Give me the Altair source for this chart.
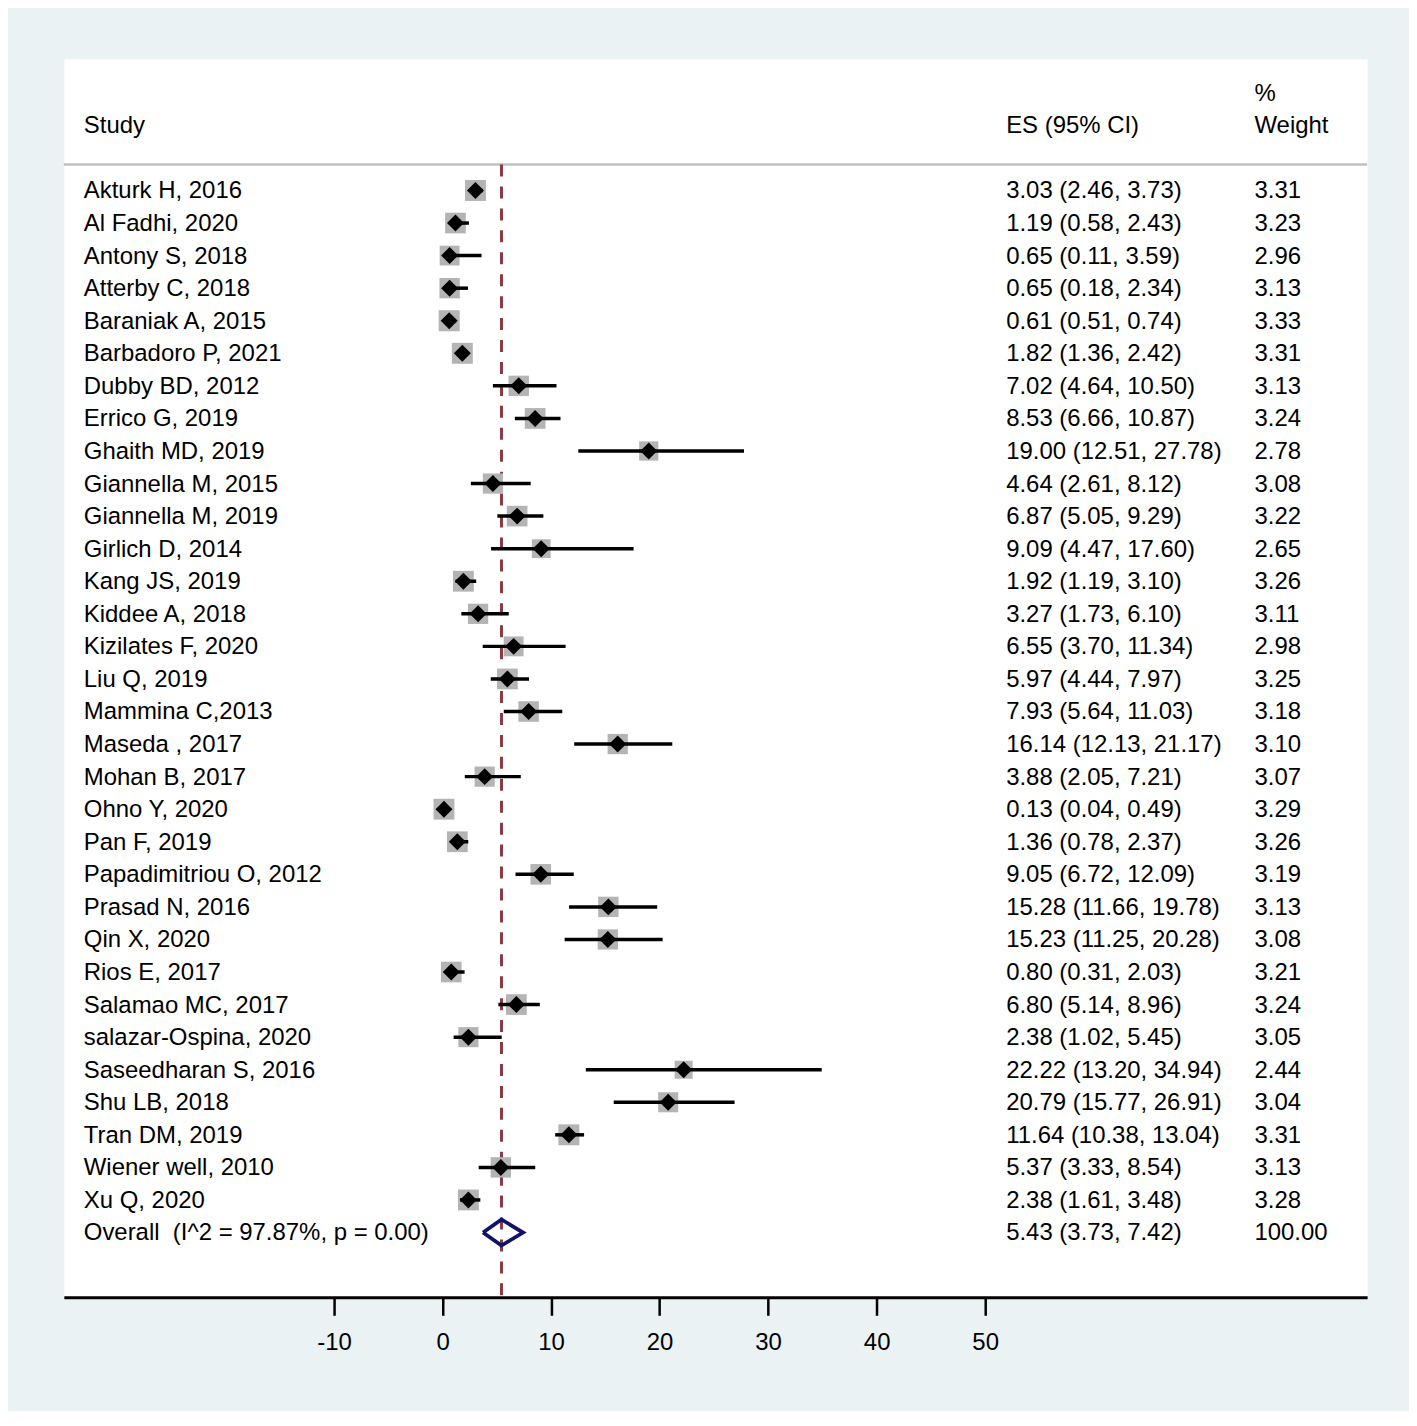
import altair as alt
import pandas as pd

studies = [
    "Akturk H, 2016", "Al Fadhi, 2020", "Antony S, 2018", "Atterby C, 2018",
    "Baraniak A, 2015", "Barbadoro P, 2021", "Dubby BD, 2012", "Errico G, 2019",
    "Ghaith MD, 2019", "Giannella M, 2015", "Giannella M, 2019", "Girlich D, 2014",
    "Kang JS, 2019", "Kiddee A, 2018", "Kizilates F, 2020", "Liu Q, 2019",
    "Mammina C,2013", "Maseda , 2017", "Mohan B, 2017", "Ohno Y, 2020",
    "Pan F, 2019", "Papadimitriou O, 2012", "Prasad N, 2016", "Qin X, 2020",
    "Rios E, 2017", "Salamao MC, 2017", "salazar-Ospina, 2020", "Saseedharan S, 2016",
    "Shu LB, 2018", "Tran DM, 2019", "Wiener well, 2010", "Xu Q, 2020",
]
es = [3.03, 1.19, 0.65, 0.65, 0.61, 1.82, 7.02, 8.53, 19.00, 4.64, 6.87, 9.09,
      1.92, 3.27, 6.55, 5.97, 7.93, 16.14, 3.88, 0.13, 1.36, 9.05, 15.28, 15.23,
      0.80, 6.80, 2.38, 22.22, 20.79, 11.64, 5.37, 2.38]
lo = [2.46, 0.58, 0.11, 0.18, 0.51, 1.36, 4.64, 6.66, 12.51, 2.61, 5.05, 4.47,
      1.19, 1.73, 3.70, 4.44, 5.64, 12.13, 2.05, 0.04, 0.78, 6.72, 11.66, 11.25,
      0.31, 5.14, 1.02, 13.20, 15.77, 10.38, 3.33, 1.61]
hi = [3.73, 2.43, 3.59, 2.34, 0.74, 2.42, 10.50, 10.87, 27.78, 8.12, 9.29, 17.60,
      3.10, 6.10, 11.34, 7.97, 11.03, 21.17, 7.21, 0.49, 2.37, 12.09, 19.78, 20.28,
      2.03, 8.96, 5.45, 34.94, 26.91, 13.04, 8.54, 3.48]
weight = [3.31, 3.23, 2.96, 3.13, 3.33, 3.31, 3.13, 3.24, 2.78, 3.08, 3.22, 2.65,
          3.26, 3.11, 2.98, 3.25, 3.18, 3.10, 3.07, 3.29, 3.26, 3.19, 3.13, 3.08,
          3.21, 3.24, 3.05, 2.44, 3.04, 3.31, 3.13, 3.28]

overall_label = "Overall\u00a0 (I^2 = 97.87%, p = 0.00)"
overall_es, overall_lo, overall_hi, overall_w = 5.43, 3.73, 7.42, 100.00

x_ticks = [-10, 0, 10, 20, 30, 40, 50]

FONT = "Liberation Sans"
W, H = 1307, 1242
XDOM = [-34.9, 85.2]
YDOM = [-4.042, 33.99]

n = len(studies)
df = pd.DataFrame({
    "row": list(range(n)),
    "study": studies, "es": es, "lo": lo, "hi": hi, "weight": weight,
})

text_df = pd.DataFrame({
    "row": list(range(n + 1)),
    "study": studies + [overall_label],
    "es_txt": [f"{e:.2f} ({l:.2f}, {h:.2f})" for e, l, h in zip(es, lo, hi)]
              + [f"{overall_es:.2f} ({overall_lo:.2f}, {overall_hi:.2f})"],
    "w_txt": [f"{w:.2f}" for w in weight] + [f"{overall_w:.2f}"],
})

ov_row = n
h = 0.4
ov_df = pd.DataFrame({
    "x": [overall_lo, overall_es, overall_hi, overall_es, overall_lo],
    "y": [ov_row, ov_row - h, ov_row, ov_row + h, ov_row],
    "o": [0, 1, 2, 3, 4],
})

xs = alt.Scale(domain=XDOM, nice=False, zero=False)
ys = alt.Scale(domain=YDOM, nice=False, zero=False, reverse=True)

base = alt.Chart(df)

X_axis = alt.Axis(values=x_ticks, grid=False, domainColor="black", domainWidth=3,
                  tickColor="black", tickWidth=2.5, tickSize=18, labelFont=FONT,
                  labelFontSize=24, labelColor="black", labelPadding=15,
                  labelFlush=False, labelExpr="datum.value + ''")

header_rule = alt.Chart(pd.DataFrame({"a": [0]})).mark_rule(
    color="#C0C0C0", strokeWidth=2.5
).encode(x=alt.value(0), x2=alt.value(W), y=alt.value(106))

dash_rule = alt.Chart(pd.DataFrame({"es": [overall_es]})).mark_rule(
    color="#8B3A44", strokeWidth=3, strokeDash=[12, 10]
).encode(
    x=alt.X("es:Q", scale=xs, axis=X_axis, title=None),
    y=alt.value(106), y2=alt.value(H),
)

boxes = base.mark_square(color="#B4B4B4", opacity=1, filled=True).encode(
    x=alt.X("es:Q", scale=xs),
    y=alt.Y("row:Q", scale=ys, axis=None),
    size=alt.Size("weight:Q", scale=alt.Scale(type="linear", domain=[0, 3.31], range=[0, 441]), legend=None),
)

ci = base.mark_rule(color="black", strokeWidth=3.5).encode(
    x=alt.X("lo:Q", scale=xs),
    x2="hi:Q",
    y=alt.Y("row:Q", scale=ys, axis=None),
)

pts = base.mark_point(shape="diamond", filled=True, color="black", opacity=1, size=290).encode(
    x=alt.X("es:Q", scale=xs),
    y=alt.Y("row:Q", scale=ys, axis=None),
)

ov = alt.Chart(ov_df).mark_line(color="#12126B", strokeWidth=3.8, strokeJoin="miter").encode(
    x=alt.X("x:Q", scale=xs),
    y=alt.Y("y:Q", scale=ys, axis=None),
    order="o:O",
)

tbase = alt.Chart(text_df)
tkw = dict(font=FONT, fontSize=24, color="black", align="left", baseline="middle", dy=1)
t_study = tbase.mark_text(**tkw).encode(
    x=alt.value(20), y=alt.Y("row:Q", scale=ys, axis=None), text="study:N")
t_es = tbase.mark_text(**tkw).encode(
    x=alt.value(945), y=alt.Y("row:Q", scale=ys, axis=None), text="es_txt:N")
t_w = tbase.mark_text(**tkw).encode(
    x=alt.value(1194), y=alt.Y("row:Q", scale=ys, axis=None), text="w_txt:N")

hdr_df = pd.DataFrame({
    "row": [-2, -2, -3, -2],
    "label": ["Study", "ES (95% CI)", "%", "Weight"],
    "px": [20, 945, 1194, 1194],
})
hdr = alt.Chart(hdr_df).mark_text(**tkw).encode(
    x=alt.X("px:Q", scale=None),
    y=alt.Y("row:Q", scale=ys, axis=None),
    text="label:N",
)

chart = alt.layer(
    header_rule, dash_rule, boxes, ci, pts, ov, t_study, t_es, t_w, hdr
).properties(
    width=W, height=H,
    background="#EAF2F3",
    padding={"left": 54, "top": 49, "right": 40, "bottom": 55},
).configure_view(fill="white", stroke="transparent")

chart.save("out.html", embed_options={"renderer": "svg", "actions": False})
